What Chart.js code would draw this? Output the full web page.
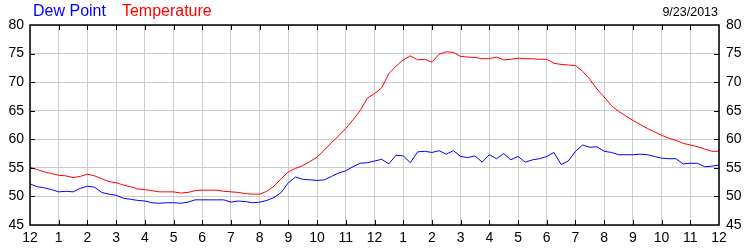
<!DOCTYPE html>
<html lang="en">
<head>
    <meta charset="UTF-8">
    <title>Dew Point / Temperature</title>
    <script src="https://cdn.jsdelivr.net/npm/chart.js@4.4.3/dist/chart.umd.min.js"></script>
    <style>
        * {
            margin: 0;
            padding: 0;
        }
        body {
            background: #fff;
            font-family: "Liberation Sans", Arial, sans-serif;
        }
        .chartBox {
            position: relative;
            width: 750px;
            height: 250px;
        }
        .legend {
            position: absolute;
            left: 33px;
            top: 2px;
            font-size: 16px;
        }
        .legend span {
            margin-right: 16px;
        }
        .dateLabel {
            position: absolute;
            right: 32px;
            top: 5px;
            font-size: 12.5px;
            color: #000;
        }
    </style>
</head>
<body>
<div class="chartBox">
    <div class="legend"><span style="color:#0000ff">Dew Point</span><span style="color:#ff0000">Temperature</span></div>
    <div class="dateLabel">9/23/2013</div>
    <canvas id="myChart" width="750" height="250"></canvas>
</div>
<script>
    // hour labels along the bottom (midnight to midnight)
    const tickLabels = ['12','1','2','3','4','5','6','7','8','9','10','11','12','1','2','3','4','5','6','7','8','9','10','11','12'];

    // readings every 15 minutes, starting 12 am
    const temperature = [
        55.1, 54.7, 54.3, 54.0, 53.7, 53.6, 53.3, 53.5,
        53.9, 53.6, 53.1, 52.6, 52.4, 52.0, 51.7, 51.3,
        51.2, 51.0, 50.8, 50.8, 50.8, 50.6, 50.7, 51.0,
        51.1, 51.1, 51.1, 50.9, 50.8, 50.7, 50.5, 50.4,
        50.4, 50.9, 51.8, 53.1, 54.3, 54.9, 55.4, 56.1,
        56.9, 58.1, 59.4, 60.6, 61.9, 63.4, 65.0, 67.2,
        68.0, 69.0, 71.5, 72.8, 73.9, 74.6, 73.9, 74.0,
        73.5, 74.9, 75.3, 75.2, 74.5, 74.4, 74.3, 74.1,
        74.1, 74.4, 73.9, 74.0, 74.2, 74.1, 74.1, 74.0,
        74.0, 73.3, 73.1, 73.0, 72.9, 71.9, 70.5, 68.8,
        67.4, 65.9, 64.9, 64.1, 63.3, 62.6, 61.9, 61.3,
        60.7, 60.2, 59.8, 59.3, 59.0, 58.7, 58.3, 57.9,
        57.9
    ];

    const dewPoint = [
        52.2, 51.7, 51.5, 51.2, 50.8, 50.9, 50.8, 51.4,
        51.8, 51.6, 50.7, 50.4, 50.2, 49.7, 49.5, 49.3,
        49.2, 48.9, 48.8, 48.9, 48.9, 48.8, 49.0, 49.4,
        49.4, 49.4, 49.4, 49.4, 49.0, 49.2, 49.1, 48.9,
        49.0, 49.3, 49.8, 50.7, 52.4, 53.4, 53.0, 52.9,
        52.8, 52.9, 53.5, 54.1, 54.5, 55.2, 55.8, 55.9,
        56.2, 56.5, 55.7, 57.2, 57.1, 55.9, 57.8, 57.9,
        57.7, 58.0, 57.4, 58.0, 57.0, 56.8, 57.1, 56.0,
        57.3, 56.6, 57.5, 56.4, 57.0, 56.0, 56.4, 56.6,
        57.0, 57.7, 55.6, 56.2, 57.9, 59.0, 58.6, 58.7,
        57.9, 57.7, 57.3, 57.3, 57.3, 57.4, 57.3, 57.0,
        56.7, 56.6, 56.6, 55.7, 55.8, 55.8, 55.2, 55.3,
        55.5
    ];

    const toPoints = arr => arr.map((v, i) => ({ x: i / 4, y: v }));

    // black frame + short inward ticks
    const frameTicks = {
        id: 'frameTicks',
        afterDatasetsDraw(chart) {
            const { ctx, chartArea: a, scales } = chart;
            ctx.save();
            ctx.strokeStyle = '#000';
            ctx.lineWidth = 1;
            ctx.beginPath();
            for (let h = 1; h < tickLabels.length - 1; h++) {
                const x = Math.round(scales.x.getPixelForValue(h)) + 0.5;
                ctx.moveTo(x, a.top); ctx.lineTo(x, a.top + 5);
                ctx.moveTo(x, a.bottom); ctx.lineTo(x, a.bottom - 5);
            }
            for (let v = 50; v < 80; v += 5) {
                const y = Math.round(scales.y.getPixelForValue(v)) + 0.5;
                ctx.moveTo(a.left, y); ctx.lineTo(a.left + 5, y);
                ctx.moveTo(a.right, y); ctx.lineTo(a.right - 5, y);
            }
            ctx.stroke();
            ctx.lineWidth = 1.5;
            ctx.strokeRect(a.left, a.top, a.right - a.left, a.bottom - a.top);
            ctx.restore();
        }
    };

    const tickFont = { family: '"Liberation Sans", Arial, sans-serif', size: 14 };

    new Chart(document.getElementById('myChart'), {
        type: 'line',
        data: {
            datasets: [
                {
                    label: 'Dew Point',
                    data: toPoints(dewPoint),
                    borderColor: '#0000ff',
                    borderWidth: 1,
                    pointRadius: 0,
                    tension: 0
                },
                {
                    label: 'Temperature',
                    data: toPoints(temperature),
                    borderColor: '#ff0000',
                    borderWidth: 1,
                    pointRadius: 0,
                    tension: 0
                }
            ]
        },
        options: {
            responsive: false,
            animation: false,
            layout: { padding: { top: 25, left: 0, right: 0, bottom: 0 } },
            plugins: {
                legend: { display: false },
                tooltip: { enabled: false }
            },
            scales: {
                x: {
                    type: 'linear',
                    min: 0,
                    max: 24,
                    afterFit: s => { s.height = 25; },
                    grid: { color: '#cccccc', drawTicks: false },
                    border: { display: false },
                    ticks: {
                        stepSize: 1,
                        autoSkip: false,
                        maxRotation: 0,
                        padding: 5,
                        color: '#000',
                        font: tickFont,
                        callback: v => tickLabels[v]
                    }
                },
                y: {
                    position: 'left',
                    min: 45,
                    max: 80,
                    afterFit: s => { s.width = 30; },
                    grid: { color: '#cccccc', drawTicks: false },
                    border: { display: false },
                    ticks: { stepSize: 5, padding: 6, color: '#000', font: tickFont }
                },
                y2: {
                    position: 'right',
                    min: 45,
                    max: 80,
                    afterFit: s => { s.width = 31; },
                    grid: { drawOnChartArea: false, drawTicks: false },
                    border: { display: false },
                    ticks: { stepSize: 5, padding: 7, color: '#000', font: tickFont }
                }
            }
        },
        plugins: [frameTicks]
    });
</script>
</body>
</html>
